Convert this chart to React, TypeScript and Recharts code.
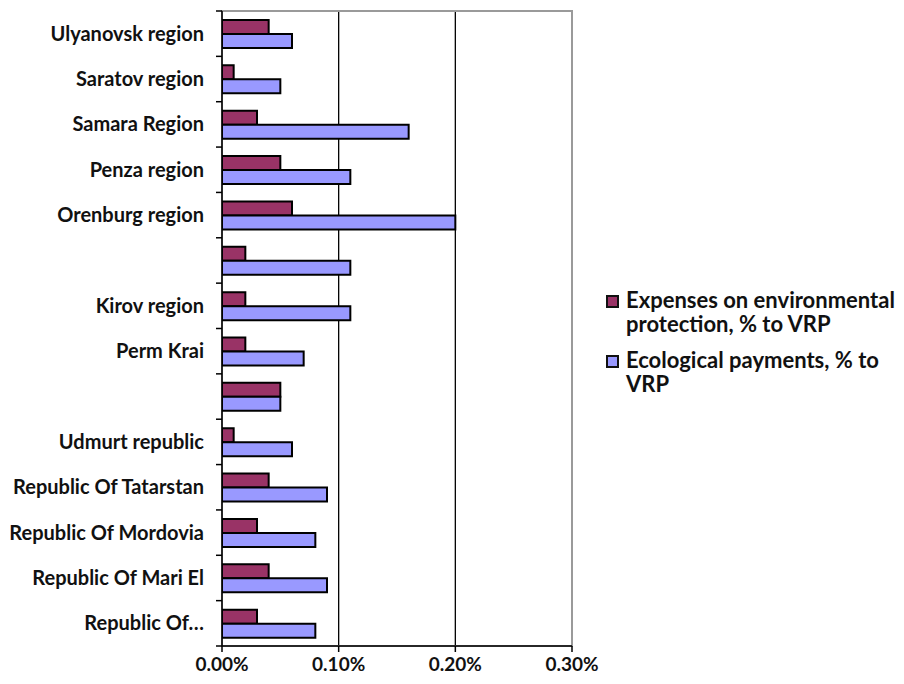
import React from "react";
import { Bar, BarChart, CartesianGrid, ReferenceArea, XAxis, YAxis } from "recharts";

const regions = [
  "Ulyanovsk region", "Saratov region", "Samara Region", "Penza region", "Orenburg region", "",
  "Kirov region", "Perm Krai", "", "Udmurt republic", "Republic Of Tatarstan",
  "Republic Of Mordovia", "Republic Of Mari El", "Republic Of…",
];
// % to VRP
const expenses = [0.04, 0.01, 0.03, 0.05, 0.06, 0.02, 0.02, 0.02, 0.05, 0.01, 0.04, 0.03, 0.04, 0.03];
const payments = [0.06, 0.05, 0.16, 0.11, 0.20, 0.11, 0.11, 0.07, 0.05, 0.06, 0.09, 0.08, 0.09, 0.08];
const xTicks = [0, 0.1, 0.2, 0.3];

const series = [
  { key: "expenses", name: "Expenses on environmental protection, % to VRP", color: "#993366" },
  { key: "payments", name: "Ecological payments, % to VRP", color: "#9999FF" },
];

const data = regions.map((region, i) => ({ idx: i, region, expenses: expenses[i], payments: payments[i] }));

const FONT = "Lato, 'Open Sans', sans-serif";
const W = 904, H = 684;
const M = { top: 11, right: 332, left: 0, bottom: 0 };
const X_AXIS_H = 38;
const TICK_SIZE = 6, TICK_MARGIN = 12;
const BAND = (H - M.top - M.bottom - X_AXIS_H) / regions.length;

// category label plus a tick mark on the band boundary (Excel style "between" ticks)
function CatTick(props: any) {
  const { x, y, payload, index } = props;
  const axisX = x + TICK_SIZE + TICK_MARGIN;
  const last = index === regions.length - 1;
  return (
    <g>
      <line x1={axisX - TICK_SIZE} x2={axisX} y1={y - BAND / 2} y2={y - BAND / 2} stroke="#000" strokeWidth={1.5} />
      {last && (
        <line x1={axisX - TICK_SIZE} x2={axisX} y1={y + BAND / 2} y2={y + BAND / 2} stroke="#000" strokeWidth={1.5} />
      )}
      <text x={x} y={y} dy="0.35em" textAnchor="end" fill="#111"
        style={{ fontSize: 20, fontWeight: 700, fontFamily: FONT }}>
        {regions[payload.value]}
      </text>
    </g>
  );
}

function LegendBox() {
  return (
    <div style={{
      position: "absolute", left: 606, top: 288, width: 296,
      fontFamily: FONT, fontWeight: 700, fontSize: 22, lineHeight: "24px", color: "#111",
    }}>
      {series.map((s) => (
        <div key={s.key} style={{ display: "flex", alignItems: "flex-start", marginBottom: 12 }}>
          <span style={{
            display: "inline-block", width: 9, height: 9, background: s.color,
            border: "2px solid #111", marginTop: 7, marginRight: 7, flex: "none",
          }} />
          <span>{s.name}</span>
        </div>
      ))}
    </div>
  );
}

export default function App() {
  return (
    <div style={{ position: "absolute", left: 0, top: 0, width: W, height: H, background: "#fff" }}>
      <BarChart
        width={W} height={H} data={data} layout="vertical"
        margin={M} barGap={0} barSize={14}
      >
        <CartesianGrid yAxisId="cat" horizontal={false} stroke="#000" strokeWidth={1.3} />
        <ReferenceArea yAxisId="cat" x1={0} x2={0.3} fill="none" stroke="#9a9a9a" strokeWidth={2} ifOverflow="visible" />
        <XAxis
          type="number" domain={[0, 0.3]} ticks={xTicks} allowDataOverflow
          tickFormatter={(v: number) => v.toFixed(2) + "%"}
          height={X_AXIS_H} tickSize={6} tickMargin={6}
          axisLine={{ stroke: "#000", strokeWidth: 1.5 }} tickLine={{ stroke: "#000", strokeWidth: 1.5 }}
          tick={{ fill: "#111", fontSize: 19, fontWeight: 700, fontFamily: FONT }}
        />
        <YAxis
          yAxisId="cat" type="category" dataKey="idx" width={222}
          axisLine={{ stroke: "#000", strokeWidth: 1.5 }} tickLine={false}
          tickSize={TICK_SIZE} tickMargin={TICK_MARGIN} interval={0}
          tick={<CatTick />}
        />
        {series.map((s) => (
          <Bar
            key={s.key} yAxisId="cat" dataKey={s.key} name={s.name}
            fill={s.color} stroke="#000" strokeWidth={2} isAnimationActive={false}
          />
        ))}
      </BarChart>
      <LegendBox />
    </div>
  );
}
